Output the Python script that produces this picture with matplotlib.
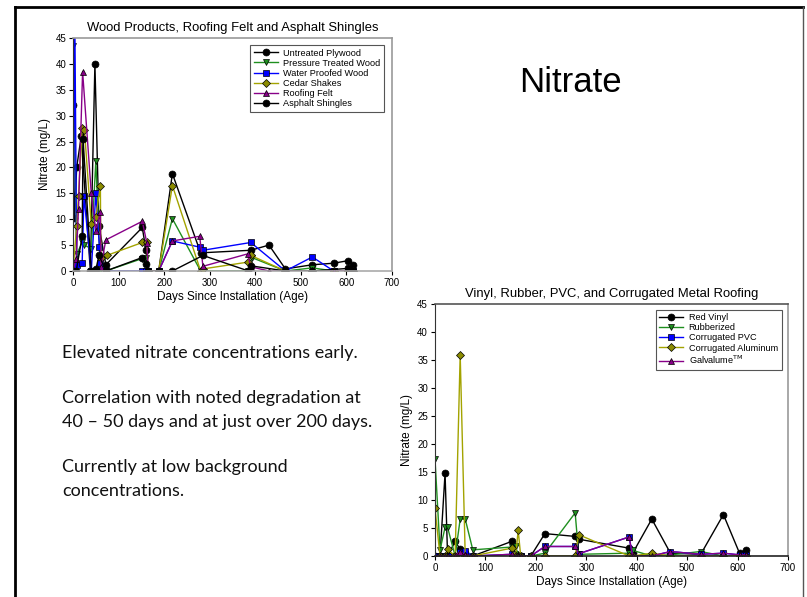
import matplotlib.pyplot as plt
from matplotlib.lines import Line2D

# sampling days and nitrate readings (mg/L) for each roofing material

# wood products, felt and shingles
ply_days = [0, 3, 8, 18, 38, 48, 57, 72, 152, 160, 165, 188, 218, 280, 390, 430, 466, 525, 572, 604, 615]
ply_vals = [32, 10.2, 20, 26, 0, 40, 8.7, 1.2, 8.4, 4, 0, 0, 18.8, 3.5, 4, 5, 0.4, 1.2, 1.5, 2, 1.2]

ptw_days = [0, 8, 20, 25, 40, 50, 60, 72, 152, 160, 165, 188, 218, 280, 385, 392, 466, 525, 572, 604, 615]
ptw_vals = [43.5, 3.2, 5.5, 5, 4.3, 21.2, 0, 0, 2.4, 2.6, 0, 0, 10.1, 0, 0, 2.6, 0, 0.6, 0, 0, 0]

wpw_days = [0, 4, 8, 20, 24, 40, 50, 58, 60, 72, 152, 160, 165, 188, 218, 278, 285, 390, 466, 525, 572, 604, 615]
wpw_vals = [0, 48, 1.2, 1.5, 14.5, 0, 15, 4.6, 1.5, 0, 0, 0, 0, 0, 5.8, 4.6, 4.0, 5.5, 0, 2.7, 0, 0, 0]

ced_days = [0, 8, 12, 20, 25, 40, 50, 60, 61, 74, 152, 162, 165, 188, 218, 280, 285, 383, 390, 466, 525, 572, 604, 615]
ced_vals = [0, 8.7, 14.5, 27.7, 27.3, 9, 10.4, 16.5, 2.6, 3, 5.5, 5.5, 0, 0, 16.5, 0, 0.4, 1.7, 3.0, 0, 0, 0, 0, 0]

felt_days = [0, 7, 12, 21, 40, 50, 60, 61, 72, 152, 162, 165, 188, 218, 278, 285, 383, 390, 430, 466, 525, 572, 604, 615]
felt_vals = [0, 2.4, 11.9, 38.5, 15, 7.8, 11.4, 0.8, 6, 9.6, 5.4, 0, 0, 5.8, 6.7, 0.9, 3.3, 0.8, 0, 0, 0, 0, 0, 0]

asp_days = [0, 7, 20, 22, 40, 50, 57, 72, 152, 160, 165, 188, 218, 285, 385, 390, 466, 525, 604, 615]
asp_vals = [0, 0, 6.7, 25.5, 0, 0.3, 3, 0, 2.6, 1.4, 0, 0, 0, 3, 0, 1, 0, 0, 0.5, 0]

# vinyl, rubber, pvc and metal
days2 = [0, 10, 20, 25, 40, 50, 60, 75, 152, 160, 165, 170, 190, 218, 278, 285, 385, 392, 430, 467, 527, 572, 604, 617]
vinyl_vals = [0, 0, 14.8, 0, 2.6, 1.2, 0.5, 0, 2.6, 0.3, 0, 0, 0, 4.0, 3.5, 3.0, 1.4, 0.5, 6.6, 0.5, 0.3, 7.4, 0.5, 1.0]
rubber_vals = [17.4, 1.1, 5.1, 5.1, 0, 6.6, 6.6, 1.1, 1.6, 1.8, 0, 0, 0, 0.5, 7.7, 0.3, 0.5, 1.0, 0, 0.2, 0.8, 0, 0, 0]
pvc_vals = [0, 0, 0, 0, 0, 0.8, 0.9, 0, 0.3, 0, 0, 0, 0, 1.7, 1.7, 0.4, 3.4, 0, 0, 0.8, 0.3, 0.5, 0.2, 0.2]
alum_vals = [8.6, 0, 0, 1.2, 0, 36, 0, 0, 1.4, 0, 4.6, 0, 0, 0, 0, 3.8, 0, 0, 0.5, 0, 0, 0, 0, 0]
galv_vals = [0, 0, 0, 0, 0, 0.8, 0.2, 0, 0.3, 0, 0, 0, 0, 1.7, 1.7, 0.4, 3.4, 0, 0, 0.8, 0.3, 0.5, 0.2, 0.2]

x_ticks = [0, 100, 200, 300, 400, 500, 600, 700]
y_ticks = [0, 5, 10, 15, 20, 25, 30, 35, 40, 45]

GREEN = '#1f8f1f'
OLIVE = '#8c8c00'
OLIVE_LINE = '#a3a300'
BLUE = '#0000ff'
PURPLE = '#880088'

plt.rcParams['font.family'] = ['Liberation Sans', 'DejaVu Sans']

fig = plt.figure(figsize=(8.07, 5.97), dpi=100)


def style_axes(ax, title):
    ax.set_xlim(0, 700)
    ax.set_ylim(0, 45)
    ax.set_xticks(x_ticks)
    ax.set_yticks(y_ticks)
    ax.tick_params(direction='out', length=3, width=0.8, labelsize=7, pad=2)
    for side in ['top', 'right']:
        ax.spines[side].set_color('#999999')
        ax.spines[side].set_linewidth(1.2)
    ax.spines['left'].set_color('#333333')
    ax.spines['bottom'].set_color('#aaaaaa')
    ax.spines['bottom'].set_linewidth(1.2)
    ax.set_title(title, fontsize=9.4, pad=5)
    ax.set_xlabel('Days Since Installation (Age)', fontsize=8.5, labelpad=2)
    ax.set_ylabel('Nitrate (mg/L)', fontsize=8.5, labelpad=3)


def series(ax, x, y, marker, face, line, label, ms=5):
    ax.plot(x, y, color=line, lw=1.0, marker=marker, markersize=ms,
            markerfacecolor=face, markeredgecolor='black', markeredgewidth=0.5,
            label=label)


def add_legend(ax, anchor):
    leg = ax.legend(loc='upper right', bbox_to_anchor=anchor, fontsize=6.6,
                    fancybox=False, edgecolor='#555555', framealpha=1,
                    handlelength=2.6, labelspacing=0.12, borderpad=0.4, handletextpad=0.6)
    leg.get_frame().set_linewidth(0.8)


# top-left panel
ax1 = fig.add_axes([0.0905, 0.5461, 0.3953, 0.3903])
series(ax1, ply_days, ply_vals, 'o', 'black', 'black', 'Untreated Plywood')
series(ax1, ptw_days, ptw_vals, 'v', GREEN, GREEN, 'Pressure Treated Wood')
series(ax1, wpw_days, wpw_vals, 's', BLUE, BLUE, 'Water Proofed Wood', ms=4.5)
series(ax1, ced_days, ced_vals, 'D', OLIVE, OLIVE_LINE, 'Cedar Shakes', ms=4.5)
series(ax1, felt_days, felt_vals, '^', PURPLE, PURPLE, 'Roofing Felt')
series(ax1, asp_days, asp_vals, 'o', 'black', 'black', 'Asphalt Shingles')
style_axes(ax1, 'Wood Products, Roofing Felt and Asphalt Shingles')
add_legend(ax1, (0.99, 0.99))

# bottom-right panel
ax2 = fig.add_axes([0.539, 0.0687, 0.4374, 0.4216])
series(ax2, days2, vinyl_vals, 'o', 'black', 'black', 'Red Vinyl')
series(ax2, days2, rubber_vals, 'v', GREEN, GREEN, 'Rubberized')
series(ax2, days2, pvc_vals, 's', BLUE, BLUE, 'Corrugated PVC', ms=4.5)
series(ax2, days2, alum_vals, 'D', OLIVE, OLIVE_LINE, 'Corrugated Aluminum', ms=4.5)
series(ax2, days2, galv_vals, '^', PURPLE, PURPLE, 'Galvalume$^{\\mathrm{TM}}$')
style_axes(ax2, 'Vinyl, Rubber, PVC, and Corrugated Metal Roofing')
ax2.spines['bottom'].set_color('#222222')
ax2.spines['top'].set_color('#555555')
add_legend(ax2, (0.995, 0.997))

# slide heading and notes
fig.text(570 / 807, 1 - 83 / 597, 'Nitrate', fontsize=25, ha='center', va='center')

notes = [
    ('Elevated nitrate concentrations early.', 353),
    ('Correlation with noted degradation at', 398),
    ('40 \u2013 50 days and at just over 200 days.', 422),
    ('Currently at low background', 467),
    ('concentrations.', 491),
]
for txt, ypx in notes:
    fig.text(62 / 807, 1 - ypx / 597, txt, fontsize=13, family=['Lato', 'DejaVu Sans'],
             ha='left', va='center', color='#111111')

# slide frame
fig.add_artist(Line2D([15 / 807, 15 / 807], [0, 1 - 7 / 597], transform=fig.transFigure,
                      color='black', lw=2))
fig.add_artist(Line2D([15 / 807, 803 / 807], [1 - 7 / 597, 1 - 7 / 597], transform=fig.transFigure,
                      color='black', lw=2))
fig.add_artist(Line2D([803 / 807, 803 / 807], [0, 1 - 7 / 597], transform=fig.transFigure,
                      color='#555555', lw=1))

fig.savefig('out.png', dpi=100)
